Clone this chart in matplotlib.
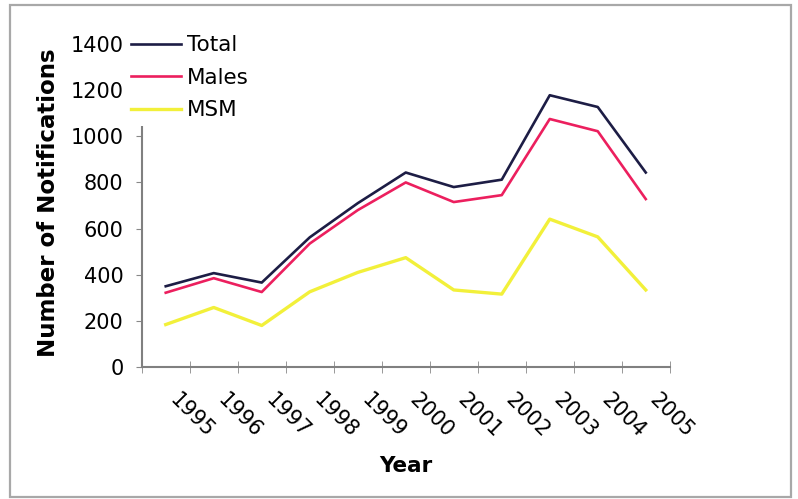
import numpy as np
import matplotlib
matplotlib.use("Agg")
import matplotlib.pyplot as plt
from matplotlib.patches import Rectangle
from matplotlib.transforms import ScaledTranslation

years = ["1995", "1996", "1997", "1998", "1999", "2000",
         "2001", "2002", "2003", "2004", "2005"]
total = [350, 407, 366, 562, 710, 843, 780, 812, 1178, 1127, 843]
males = [322, 385, 325, 535, 680, 800, 715, 745, 1075, 1022, 728]
msm = [184, 258, 180, 326, 410, 474, 334, 316, 641, 564, 334]

C_TOTAL = "#1d1d45"
C_MALES = "#ec1f5e"
C_MSM = "#f2f03a"

plt.rcParams["font.family"] = "DejaVu Sans"

fig = plt.figure(figsize=(7.98, 4.99), dpi=100)
ax = fig.add_axes([0.1776, 0.2645, 0.6617, 0.6473])

x = np.arange(len(years))
ax.plot(x, total, color=C_TOTAL, lw=1.9, label="Total")
ax.plot(x, males, color=C_MALES, lw=1.9, label="Males")
ax.plot(x, msm, color=C_MSM, lw=2.4, label="MSM")

ax.set_xlim(-0.5, len(years) - 0.5)
ax.set_ylim(0, 1400)
ax.set_yticks(range(0, 1401, 200))
ax.tick_params(axis="y", labelsize=15, direction="out", length=4,
               color="#888888", pad=9)

# category labels at centres, tick marks at boundaries (Excel style)
ax.set_xticks(x)
ax.set_xticklabels(years, rotation=-45, rotation_mode="anchor",
                   ha="left", va="top", fontsize=15)
ax.tick_params(axis="x", which="major", length=0, pad=16)
ax.set_xticks(np.arange(-0.5, len(years)), minor=True)
ax.tick_params(axis="x", which="minor", direction="inout", length=8,
               color="#888888")
off = ScaledTranslation(10 / 72, 0, fig.dpi_scale_trans)
for lbl in ax.get_xticklabels():
    lbl.set_transform(lbl.get_transform() + off)

for s in ["top", "right"]:
    ax.spines[s].set_visible(False)
for s in ["left", "bottom"]:
    ax.spines[s].set_color("#808080")
    ax.spines[s].set_linewidth(1.5)

ax.set_ylabel("Number of Notifications", fontsize=16.5, fontweight="bold")
ax.yaxis.set_label_coords(-0.155, 0.51)
ax.set_xlabel("Year", fontsize=15.5, fontweight="bold")
ax.xaxis.set_label_coords(0.5, -0.275)

leg = ax.legend(loc="upper left", bbox_to_anchor=(126 / 798, 1 - 30 / 499),
                bbox_transform=fig.transFigure, fontsize=15.5, frameon=True,
                fancybox=False, framealpha=1, facecolor="white",
                edgecolor="none", handlelength=2.3, handletextpad=0.3,
                labelspacing=0.58, borderpad=0.25, borderaxespad=0)
leg.set_zorder(10)

fig.patches.append(Rectangle((10 / 798, 2 / 499), 781 / 798, 492 / 499,
                             transform=fig.transFigure, fill=False,
                             edgecolor="#a8a8a8", lw=1.6))

fig.savefig("out.png", dpi=100)
